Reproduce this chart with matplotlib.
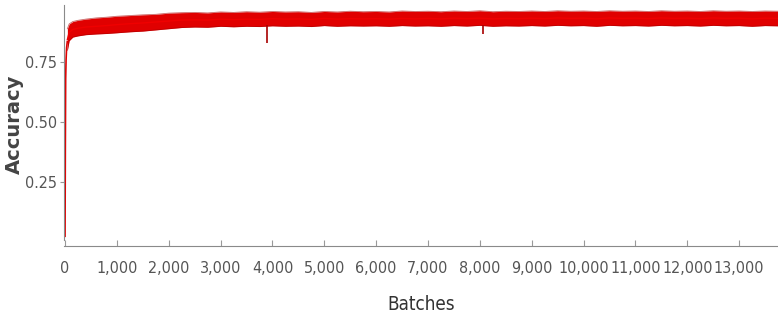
import os
import matplotlib
matplotlib.use("Agg")
import matplotlib.pyplot as plt
from matplotlib import font_manager
from matplotlib.font_manager import FontProperties
from matplotlib.ticker import FuncFormatter, FixedLocator

# ---- data ----
start_batches = [0, 6, 12, 20, 30, 45]
start_values = [0.02, 0.40, 0.68, 0.76, 0.81, 0.84]

band_batches = [45, 80, 150, 250, 400, 600, 800, 1000, 1250, 1500, 1750, 2000,
                2250, 2500, 2750, 3000, 3250, 3500, 3750, 4000, 4250, 4500, 4750,
                5000, 5250, 5500, 5750, 6000, 6250, 6500, 6750, 7000, 7250, 7500,
                7750, 8000, 8250, 8500, 8750, 9000, 9250, 9500, 9750, 10000, 10250,
                10500, 10750, 11000, 11250, 11500, 11750, 12000, 12250, 12500, 12750,
                13000, 13250, 13500, 13750]
band_upper = [0.89, 0.91, 0.92, 0.925, 0.93, 0.935, 0.938, 0.942, 0.945, 0.948, 0.95, 0.955,
              0.957, 0.958, 0.956, 0.96, 0.958, 0.961, 0.959, 0.962, 0.96, 0.961, 0.958,
              0.962, 0.96, 0.963, 0.961, 0.962, 0.96, 0.964, 0.962, 0.963, 0.961, 0.964,
              0.962, 0.965, 0.961, 0.963, 0.962, 0.964, 0.962, 0.965, 0.963, 0.964, 0.962,
              0.965, 0.963, 0.964, 0.962, 0.965, 0.963, 0.964, 0.962, 0.965, 0.963,
              0.964, 0.962, 0.964, 0.963]
band_lower = [0.80, 0.84, 0.855, 0.86, 0.865, 0.868, 0.87, 0.873, 0.877, 0.88, 0.885, 0.89,
              0.895, 0.897, 0.896, 0.9, 0.898, 0.9, 0.899, 0.902, 0.9, 0.901, 0.899,
              0.903, 0.9, 0.902, 0.901, 0.902, 0.9, 0.903, 0.901, 0.902, 0.9, 0.903,
              0.901, 0.904, 0.9, 0.902, 0.901, 0.903, 0.901, 0.904, 0.902, 0.903, 0.9,
              0.904, 0.902, 0.903, 0.901, 0.904, 0.902, 0.903, 0.901, 0.904, 0.902,
              0.903, 0.9, 0.903, 0.902]
band_center = [0.845, 0.875, 0.887, 0.892, 0.897, 0.9, 0.903, 0.907, 0.911, 0.914, 0.918, 0.922,
               0.926, 0.927, 0.926, 0.93, 0.928, 0.93, 0.929, 0.932, 0.93, 0.931, 0.929,
               0.933, 0.93, 0.932, 0.931, 0.932, 0.93, 0.933, 0.931, 0.933, 0.931, 0.934,
               0.932, 0.934, 0.931, 0.933, 0.932, 0.934, 0.932, 0.935, 0.933, 0.934, 0.931,
               0.935, 0.933, 0.934, 0.932, 0.935, 0.933, 0.934, 0.932, 0.935, 0.933,
               0.934, 0.931, 0.934, 0.933]

dip_batches = [3900, 8060]
dip_values = [0.83, 0.87]

x_ticks = [0, 1000, 2000, 3000, 4000, 5000, 6000, 7000, 8000, 9000, 10000, 11000, 12000, 13000]
y_ticks = [0.25, 0.50, 0.75]


# ---- pick a narrow font if one is installed ----
def find_narrow():
    prefs = ["liberationsansnarrow-regular", "dejavusanscondensed.ttf",
             "robotocondensed-regular", "opensans_condensed-regular",
             "opensanscondensed-regular", "notosans-condensed.ttf",
             "notosanscondensed-regular", "roboto_condensed-regular"]
    files = [f.fname for f in font_manager.fontManager.ttflist]
    low = {os.path.basename(p).lower(): p for p in files}
    for pref in prefs:
        for b, p in low.items():
            if b.startswith(pref) or b == pref:
                return p
    for b, p in low.items():
        if ("narrow" in b or "condensed" in b) and "bold" not in b and "italic" not in b \
                and "oblique" not in b and "light" not in b and "thin" not in b:
            return p
    return None


narrow_path = find_narrow()


def tick_fp(size):
    if narrow_path:
        return FontProperties(fname=narrow_path, size=size)
    return FontProperties(family="DejaVu Sans", size=size * 0.8)


# ---- figure ----
fig = plt.figure(figsize=(7.78, 3.21), dpi=100)
W, H = 778, 321
left_px, right_px, top_px, bottom_px = 64, 778, 5, 240
ax = fig.add_axes([left_px / W, 1 - bottom_px / H, (right_px - left_px) / W, (bottom_px - top_px) / H])

red = "#e00000"
dark = "#a80000"

ax.plot(start_batches, start_values, color=red, lw=1.2, solid_capstyle="butt")
ax.fill_between(band_batches, band_lower, band_upper, color=red, lw=0)
ax.plot(band_batches, band_upper, color=dark, lw=0.6, alpha=0.6)
ax.plot(band_batches, band_lower, color=dark, lw=0.6, alpha=0.6)
ax.plot(band_batches, band_center, color="#f00000", lw=1.0)
ax.vlines(dip_batches, dip_values, [0.905] * len(dip_batches), color=dark, lw=1.2)

ax.set_xlim(-20, 13750)
ax.set_ylim(0.008, 0.989)

for s in ["top", "right"]:
    ax.spines[s].set_visible(False)
ax.spines["left"].set_color("#8a8a8a")
ax.spines["bottom"].set_color("#8a8a8a")
ax.spines["bottom"].set_position(("outward", 4))

ax.xaxis.set_major_locator(FixedLocator(x_ticks))
ax.yaxis.set_major_locator(FixedLocator(y_ticks))
ax.xaxis.set_major_formatter(FuncFormatter(lambda v, p: f"{int(v):,}"))
ax.yaxis.set_major_formatter(FuncFormatter(lambda v, p: f"{v:.2f}"))

ax.tick_params(axis="x", direction="in", length=4, color="#999999", pad=11, labelcolor="#555555")
ax.tick_params(axis="y", direction="out", length=3, color="#999999", pad=2, labelcolor="#555555")
for lab in ax.get_xticklabels() + ax.get_yticklabels():
    lab.set_fontproperties(tick_fp(11.5))

ax.set_xlabel("Batches", fontproperties=tick_fp(13.5), color="#333333", labelpad=14)
fig.text(14 / W, 1 - 124 / H, "Accuracy", family="DejaVu Sans", fontweight="bold",
         fontsize=14, color="#444444", rotation=90, ha="center", va="center")

fig.savefig("out.png", dpi=100)
